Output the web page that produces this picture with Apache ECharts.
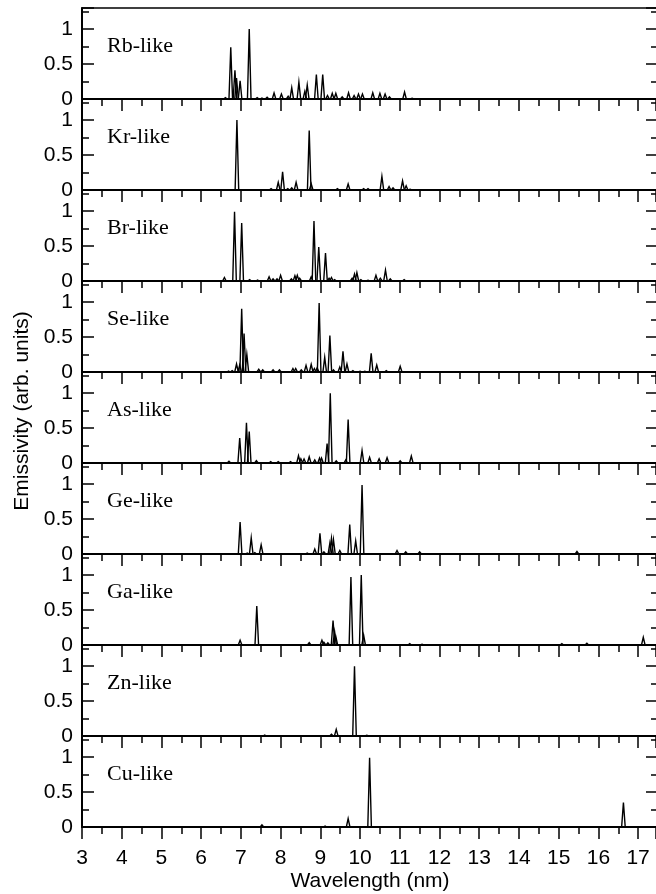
<!DOCTYPE html>
<html>
<head>
<meta charset="utf-8">
<script src="https://cdn.jsdelivr.net/npm/echarts@6/dist/echarts.min.js"></script>
<style>
  html, body { margin: 0; padding: 0; background: #fff; }
  #main { width: 656px; height: 894px; }
</style>
</head>
<body>
<div id="main"></div>
<script>
// ions, top panel to bottom panel
const ions = ['Rb-like', 'Kr-like', 'Br-like', 'Se-like', 'As-like', 'Ge-like', 'Ga-like', 'Zn-like', 'Cu-like']

// emission lines: [wavelength (nm), emissivity (arb. units)]
const rbLines = [[6.61, 0.02], [6.745, 0.74], [6.85, 0.41], [6.89, 0.3], [6.98, 0.26], [7.21, 1.0],
  [7.41, 0.02], [7.53, 0.015], [7.66, 0.025], [7.835, 0.085], [8.02, 0.07], [8.19, 0.04], [8.28, 0.16],
  [8.46, 0.24], [8.61, 0.11], [8.67, 0.2], [8.9, 0.35], [9.06, 0.35], [9.18, 0.05], [9.3, 0.08],
  [9.39, 0.08], [9.55, 0.03], [9.71, 0.09], [9.85, 0.05], [9.96, 0.07], [10.06, 0.07], [10.32, 0.09],
  [10.5, 0.08], [10.63, 0.07], [10.74, 0.03], [11.12, 0.1], [11.31, 0.01]]
const krLines = [[6.9, 1.0], [7.76, 0.02], [7.94, 0.11], [8.05, 0.26], [8.18, 0.02], [8.28, 0.03],
  [8.39, 0.11], [8.72, 0.85], [8.77, 0.09], [9.43, 0.02], [9.7, 0.085], [10.09, 0.02], [10.2, 0.02],
  [10.55, 0.195], [10.73, 0.05], [10.83, 0.03], [11.07, 0.13], [11.16, 0.06], [11.26, 0.01]]
const brLines = [[6.585, 0.05], [6.84, 0.99], [7.02, 0.83], [7.22, 0.02], [7.42, 0.015], [7.71, 0.06],
  [7.81, 0.03], [7.91, 0.03], [8.0, 0.08], [8.27, 0.03], [8.36, 0.076], [8.42, 0.08], [8.48, 0.04],
  [8.77, 0.06], [8.84, 0.857], [8.96, 0.486], [9.13, 0.4], [9.22, 0.04], [9.28, 0.05], [9.36, 0.02],
  [9.8, 0.04], [9.86, 0.1], [9.92, 0.12], [10.02, 0.02], [10.2, 0.01], [10.4, 0.08], [10.51, 0.04],
  [10.64, 0.157], [10.76, 0.03], [11.11, 0.02]]
const seLines = [[6.69, 0.014], [6.78, 0.02], [6.89, 0.114], [6.97, 0.1], [7.02, 0.905], [7.08, 0.55],
  [7.15, 0.25], [7.45, 0.04], [7.55, 0.03], [7.81, 0.03], [7.97, 0.03], [8.31, 0.05], [8.38, 0.05],
  [8.52, 0.03], [8.64, 0.095], [8.77, 0.11], [8.85, 0.05], [8.92, 0.06], [8.97, 0.986], [9.11, 0.21],
  [9.24, 0.52], [9.33, 0.03], [9.49, 0.07], [9.57, 0.295], [9.67, 0.114], [9.82, 0.02], [10.0, 0.01],
  [10.12, 0.01], [10.28, 0.267], [10.42, 0.1], [10.66, 0.02], [11.01, 0.08]]
const asLines = [[6.7, 0.024], [6.97, 0.357], [7.14, 0.576], [7.21, 0.45], [7.39, 0.033], [7.75, 0.02],
  [7.94, 0.02], [8.25, 0.02], [8.45, 0.105], [8.51, 0.06], [8.59, 0.057], [8.72, 0.09], [8.86, 0.043],
  [8.98, 0.07], [9.03, 0.07], [9.17, 0.276], [9.25, 0.995], [9.4, 0.03], [9.64, 0.043], [9.7, 0.62],
  [10.05, 0.18], [10.24, 0.08], [10.48, 0.06], [10.68, 0.076], [11.01, 0.03], [11.29, 0.1]]
const geLines = [[6.98, 0.457], [7.16, 0.014], [7.26, 0.23], [7.35, 0.02], [7.51, 0.13], [8.67, 0.014],
  [8.86, 0.07], [8.99, 0.295], [9.09, 0.03], [9.24, 0.157], [9.28, 0.224], [9.33, 0.205], [9.49, 0.05],
  [9.74, 0.42], [9.89, 0.186], [10.05, 0.986], [10.93, 0.05], [11.15, 0.03], [11.5, 0.03], [15.46, 0.035]]
const gaLines = [[6.98, 0.067], [7.4, 0.557], [8.72, 0.033], [9.04, 0.067], [9.09, 0.04], [9.19, 0.03],
  [9.32, 0.35], [9.36, 0.19], [9.39, 0.12], [9.77, 0.97], [10.03, 1.0], [10.09, 0.14], [11.25, 0.02],
  [11.56, 0.01], [15.08, 0.02], [15.71, 0.025], [17.13, 0.11]]
const znLines = [[7.6, 0.014], [9.28, 0.024], [9.4, 0.095], [9.86, 0.995], [10.17, 0.01]]
const cuLines = [[7.53, 0.03], [9.12, 0.014], [9.7, 0.12], [10.24, 0.99], [16.63, 0.35]]

const spectra = [rbLines, krLines, brLines, seLines, asLines, geLines, gaLines, znLines, cuLines]

// axis ranges
const xMin = 3
const xMax = 17.45
const yMax = 1.3

// layout
const panelTop = 8
const panelH = 91
const halfWidth = 0.045 // half base width of a drawn line profile, nm
const sans = '"Liberation Sans", Helvetica, Arial, sans-serif'

const chart = echarts.init(document.getElementById('main'))

const grids = []
const xAxes = []
const yAxes = []
const series = []
const graphics = []

ions.forEach((ion, i) => {
  const top = panelTop + i * panelH
  grids.push({ left: 82, right: 0, top: top, height: panelH })

  xAxes.push({
    gridIndex: i,
    type: 'value',
    min: xMin,
    max: xMax,
    interval: 1,
    axisLine: { onZero: false, lineStyle: { color: '#000', width: 2 } },
    axisTick: { inside: false, length: 12, lineStyle: { color: '#000', width: 1.5 } },
    minorTick: { show: true, splitNumber: 2, length: 7, lineStyle: { color: '#000', width: 1.5 } },
    splitLine: { show: false },
    axisLabel: {
      show: i === ions.length - 1,
      showMaxLabel: false,
      margin: 21,
      color: '#000',
      fontSize: 21,
      fontFamily: sans,
      formatter: v => (Number.isInteger(v) ? String(v) : '')
    }
  })

  // left axis with labels
  yAxes.push({
    gridIndex: i,
    type: 'value',
    min: 0,
    max: yMax,
    interval: 0.5,
    axisLine: { show: true, onZero: false, lineStyle: { color: '#000', width: 2 } },
    axisTick: { inside: true, length: 12, lineStyle: { color: '#000', width: 1.5 } },
    minorTick: { show: true, splitNumber: 2, length: 7, lineStyle: { color: '#000', width: 1.5 } },
    splitLine: { show: false },
    axisLabel: {
      showMaxLabel: false,
      margin: 9,
      color: '#000',
      fontSize: 21,
      fontFamily: sans,
      formatter: v => (v > 1.01 ? '' : String(v))
    }
  })

  series.push({
    type: 'custom',
    xAxisIndex: i,
    yAxisIndex: i,
    data: spectra[i],
    encode: { x: 0, y: 1 },
    clip: true,
    silent: true,
    renderItem: (params, api) => {
      const x = api.value(0)
      const h = api.value(1)
      return {
        type: 'polyline',
        shape: { points: [api.coord([x - halfWidth, 0]), api.coord([x, h]), api.coord([x + halfWidth, 0])] },
        style: { stroke: '#000', lineWidth: 1.4, fill: null }
      }
    }
  })

  graphics.push({
    type: 'text',
    left: 107,
    top: top + 27,
    style: { text: ion, fill: '#000', font: '22px "Liberation Serif", "Times New Roman", serif' }
  })
})

// right-hand axes: ticks only
ions.forEach((ion, i) => {
  yAxes.push({
    gridIndex: i,
    type: 'value',
    position: 'right',
    min: 0,
    max: yMax,
    interval: 0.5,
    axisLine: { show: false },
    axisTick: { inside: true, length: 10, lineStyle: { color: '#000', width: 1.5 } },
    minorTick: { show: true, splitNumber: 2, length: 5, lineStyle: { color: '#000', width: 1.5 } },
    splitLine: { show: false },
    axisLabel: { show: false }
  })
})

// top frame line of the first panel
xAxes.push({
  gridIndex: 0,
  type: 'value',
  position: 'top',
  min: xMin,
  max: xMax,
  axisLine: { onZero: false, lineStyle: { color: '#000', width: 1.5 } },
  axisTick: { show: false },
  splitLine: { show: false },
  axisLabel: { show: false }
})

graphics.push({
  type: 'text',
  x: 22,
  y: 411,
  rotation: Math.PI / 2,
  style: { text: 'Emissivity (arb. units)', fill: '#000', font: '21px ' + sans, align: 'center', verticalAlign: 'middle' }
})
graphics.push({
  type: 'text',
  x: 370,
  y: 881,
  style: { text: 'Wavelength (nm)', fill: '#000', font: '21px ' + sans, align: 'center', verticalAlign: 'middle' }
})

chart.setOption({
  backgroundColor: '#fff',
  animation: false,
  grid: grids,
  xAxis: xAxes,
  yAxis: yAxes,
  series: series,
  graphic: graphics
})
</script>
</body>
</html>
